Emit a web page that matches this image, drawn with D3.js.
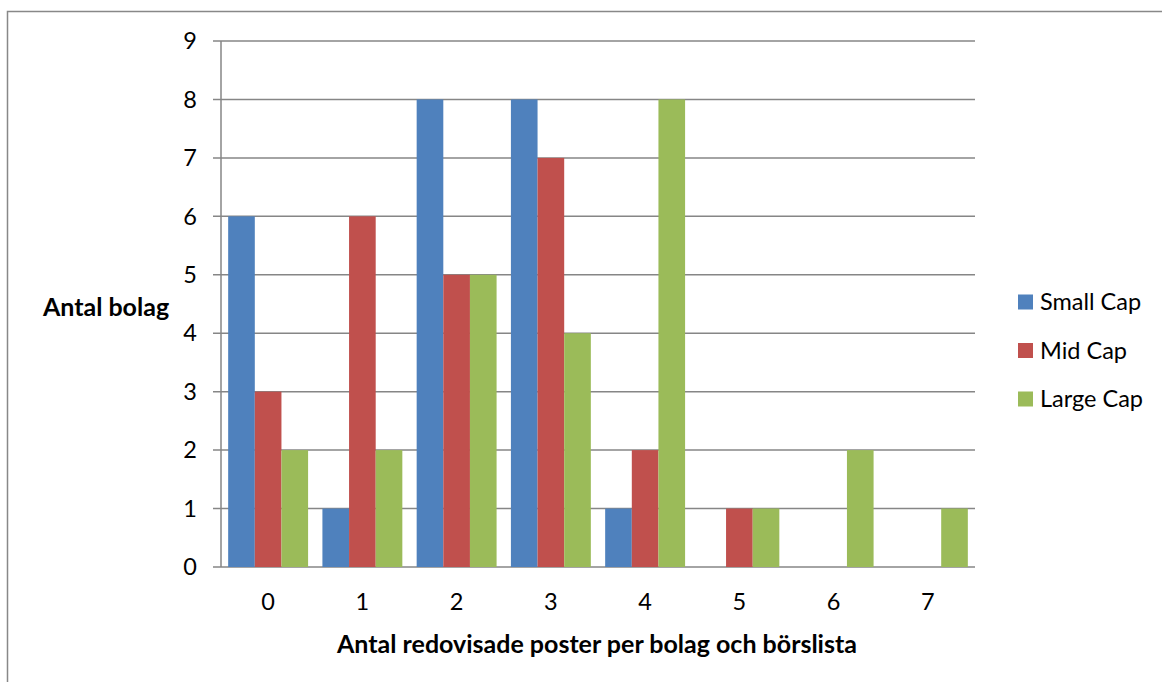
<!DOCTYPE html>
<html>
<head>
<meta charset="utf-8">
<script src="https://cdn.jsdelivr.net/npm/d3@7"></script>
<style>
  html, body { margin: 0; padding: 0; background: #fff; }
  svg { display: block; font-family: Lato, "Open Sans", sans-serif; }
</style>
</head>
<body>
<svg id="chart" width="1162" height="682"></svg>
<script>
// Number of reported items per company (x categories)
const categories = ["0", "1", "2", "3", "4", "5", "6", "7"];
const seriesNames = ["Small Cap", "Mid Cap", "Large Cap"];
const smallCap = [6, 1, 8, 8, 1, 0, 0, 0];
const midCap   = [3, 6, 5, 7, 2, 1, 0, 0];
const largeCap = [2, 2, 5, 4, 8, 1, 2, 1];
const yTicks = [0, 1, 2, 3, 4, 5, 6, 7, 8, 9];
const colors = ["#4F81BD", "#C0504D", "#9BBB59"];

const seriesValues = [smallCap, midCap, largeCap];
const rows = categories.map((c, i) => ({
  cat: c,
  vals: seriesNames.map((s, k) => ({ series: s, k, value: seriesValues[k][i] }))
}));

const svg = d3.select("#chart");
const fontSize = 23.5;
const titleSize = 25;

// outer chart frame
svg.append("rect")
  .attr("x", 7.5).attr("y", 11.5)
  .attr("width", 1200).attr("height", 700)
  .attr("fill", "none").attr("stroke", "#888").attr("stroke-width", 1.5);

const plot = { left: 221, right: 975, top: 41, bottom: 567 };

const x0 = d3.scaleBand()
  .domain(categories)
  .range([plot.left, plot.right])
  .paddingInner(0.152)
  .paddingOuter(0.076);

const x1 = d3.scaleBand()
  .domain(seriesNames)
  .range([0, x0.bandwidth()]);

const y = d3.scaleLinear().domain([0, 9]).range([plot.bottom, plot.top]);

// horizontal gridlines
svg.append("g")
  .selectAll("line")
  .data(yTicks)
  .join("line")
  .attr("x1", plot.left - 8).attr("x2", plot.right)
  .attr("y1", d => y(d)).attr("y2", d => y(d))
  .attr("stroke", "#868686").attr("stroke-width", 1.5);

// bars
svg.append("g")
  .selectAll("g")
  .data(rows)
  .join("g")
  .attr("transform", d => `translate(${x0(d.cat)},0)`)
  .selectAll("rect")
  .data(d => d.vals.filter(v => v.value > 0))
  .join("rect")
  .attr("x", d => x1(d.series))
  .attr("width", x1.bandwidth())
  .attr("y", d => y(d.value))
  .attr("height", d => y(0) - y(d.value))
  .attr("fill", d => colors[d.k]);

// y axis line
svg.append("line")
  .attr("x1", plot.left).attr("x2", plot.left)
  .attr("y1", plot.top).attr("y2", plot.bottom)
  .attr("stroke", "#868686").attr("stroke-width", 1.5);

// y tick labels
svg.append("g")
  .selectAll("text")
  .data(yTicks)
  .join("text")
  .attr("x", 197).attr("y", d => y(d))
  .attr("dy", "0.35em")
  .attr("text-anchor", "end")
  .attr("font-size", fontSize)
  .attr("fill", "#000")
  .text(d => d);

// x tick labels
svg.append("g")
  .selectAll("text")
  .data(categories)
  .join("text")
  .attr("x", d => x0(d) + x0.bandwidth() / 2)
  .attr("y", 602)
  .attr("dy", "0.35em")
  .attr("text-anchor", "middle")
  .attr("font-size", fontSize)
  .attr("fill", "#000")
  .text(d => d);

// axis titles
svg.append("text")
  .attr("x", 106).attr("y", 307)
  .attr("dy", "0.35em")
  .attr("text-anchor", "middle")
  .attr("font-size", titleSize).attr("font-weight", "bold")
  .text("Antal bolag");

svg.append("text")
  .attr("x", 597).attr("y", 644)
  .attr("dy", "0.35em")
  .attr("text-anchor", "middle")
  .attr("font-size", titleSize).attr("font-weight", "bold")
  .text("Antal redovisade poster per bolag och börslista");

// legend
const legend = svg.append("g")
  .selectAll("g")
  .data(seriesNames)
  .join("g")
  .attr("transform", (d, i) => `translate(1018,${302 + i * 48.5})`);

legend.append("rect")
  .attr("x", 0).attr("y", -7.5)
  .attr("width", 15).attr("height", 15)
  .attr("fill", (d, i) => colors[i]);

legend.append("text")
  .attr("x", 22).attr("y", 0)
  .attr("dy", "0.35em")
  .attr("font-size", fontSize)
  .text(d => d);
</script>
</body>
</html>
